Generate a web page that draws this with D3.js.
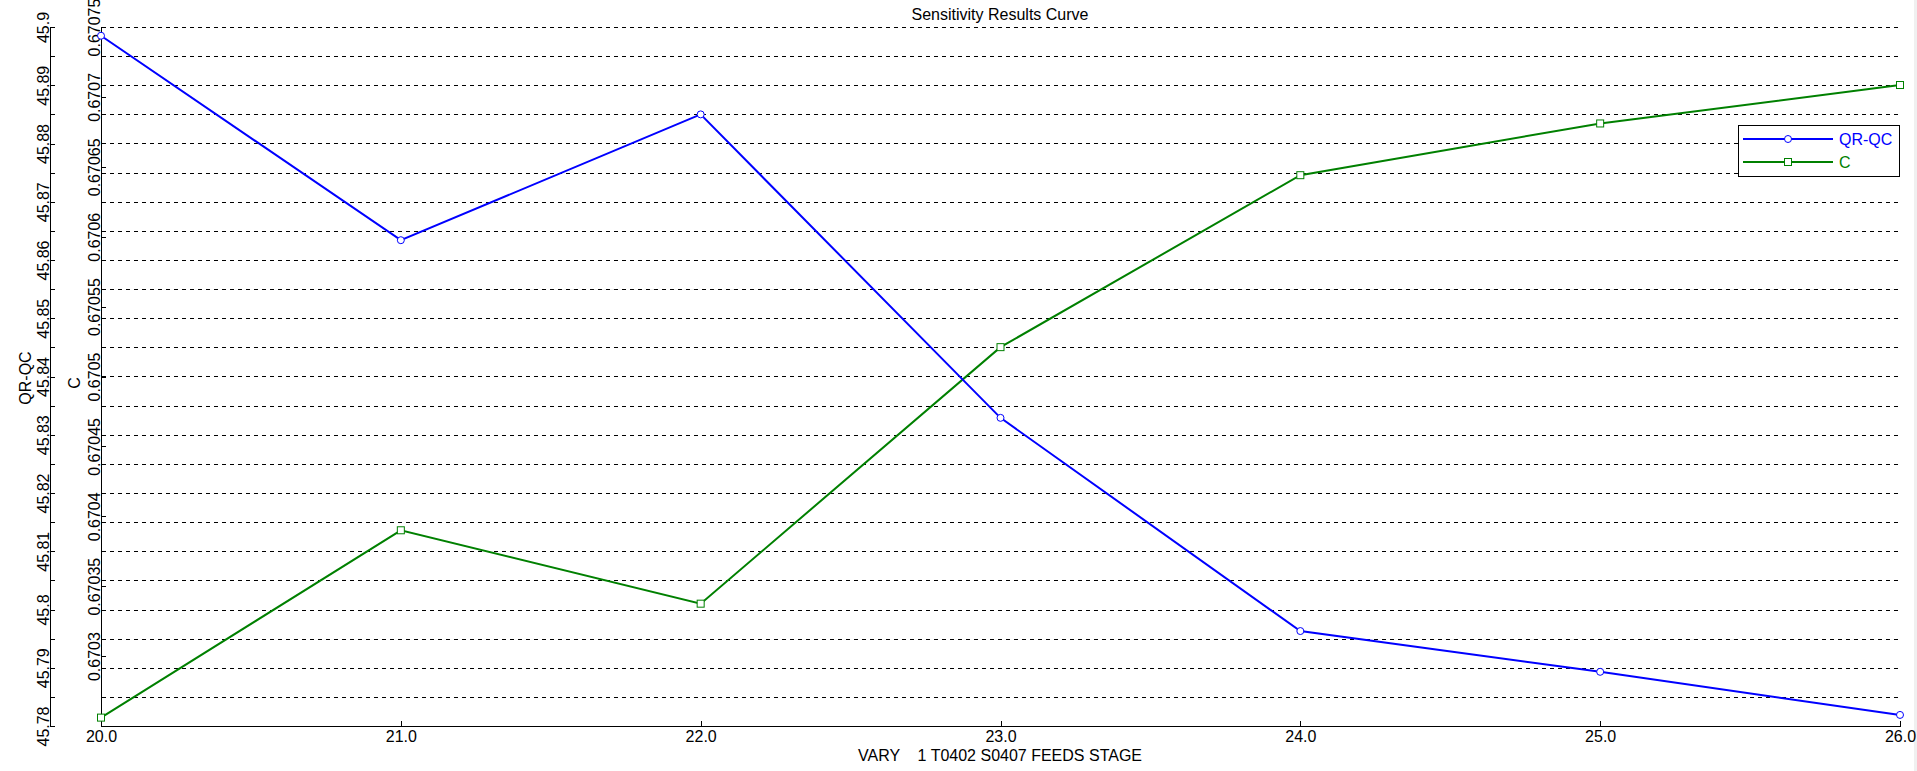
<!DOCTYPE html>
<html>
<head>
<meta charset="utf-8">
<script src="https://cdn.jsdelivr.net/npm/d3@7"></script>
<style>
  html, body { margin: 0; padding: 0; background: #fff; }
  svg { display: block; }
  text { font-family: "Liberation Sans", Arial, sans-serif; font-size: 16px; fill: #000; }
</style>
</head>
<body>
<svg id="chart" width="1917" height="771"></svg>
<script>
// ---- data ----
const xValues = [20, 21, 22, 23, 24, 25, 26];
const qrqcValues = [45.8985, 45.8634, 45.885, 45.8329, 45.7963, 45.7893, 45.7819];
const cValues = [0.670256, 0.67039, 0.6703375, 0.670521, 0.670644, 0.670681, 0.6707085];
const xTicks = [20, 21, 22, 23, 24, 25, 26];
const qrqcTicks = [45.78, 45.785, 45.79, 45.795, 45.8, 45.805, 45.81, 45.815, 45.82, 45.825, 45.83, 45.835,
                   45.84, 45.845, 45.85, 45.855, 45.86, 45.865, 45.87, 45.875, 45.88, 45.885, 45.89, 45.895, 45.9];
const qrqcLabelTicks = [45.78, 45.79, 45.8, 45.81, 45.82, 45.83, 45.84, 45.85, 45.86, 45.87, 45.88, 45.89, 45.9];
const cTicks = [0.6703, 0.67035, 0.6704, 0.67045, 0.6705, 0.67055, 0.6706, 0.67065, 0.6707, 0.67075];
const seriesNames = ["QR-QC", "C"];
const titleText = "Sensitivity Results Curve";
const xTitle = "VARY    1 T0402 S0407 FEEDS STAGE";

// ---- layout ----
const plotLeft = 101, plotRight = 1900, plotTop = 27, plotBottom = 726;
const blue = "#0000ff", green = "#008000";

const svg = d3.select("#chart");
svg.append("rect").attr("width", 1917).attr("height", 771).attr("fill", "#fff");
svg.append("rect").attr("x", 1914).attr("y", 0).attr("width", 3).attr("height", 771).attr("fill", "#f0f0f0");

const x = d3.scaleLinear().domain([20, 26]).range([plotLeft, plotRight]);
const yL = d3.scaleLinear().domain([45.78, 45.9]).range([plotBottom, plotTop]);
const yR = d3.scaleLinear().domain([0.67025, 0.67075]).range([plotBottom, plotTop]);

// gridlines (dashed) at each QR-QC tick
svg.append("g").selectAll("line")
  .data(qrqcTicks.filter(v => v > 45.7801))
  .join("line")
  .attr("x1", plotLeft + 1).attr("x2", 1898)
  .attr("y1", d => Math.round(yL(d)) + 0.5).attr("y2", d => Math.round(yL(d)) + 0.5)
  .attr("stroke", "#000").attr("stroke-width", 1).attr("stroke-dasharray", "4,4")
  .attr("shape-rendering", "crispEdges");

// QR-QC axis
const fmtL = v => qrqcLabelTicks.some(t => Math.abs(t - v) < 1e-9) ? String(Number(v.toFixed(2))) : "";
const axL = svg.append("g").attr("transform", "translate(50,0)")
  .call(d3.axisRight(yL).tickValues(qrqcTicks).tickSize(5).tickSizeOuter(0).tickFormat(fmtL));
axL.selectAll("text").attr("x", 0).attr("y", -1).attr("dy", null)
  .attr("transform", "rotate(-90)").attr("text-anchor", "middle");

// C axis
const fmtR = v => String(Number(v.toFixed(5)));
const axR = svg.append("g").attr("transform", `translate(${plotLeft},0)`)
  .call(d3.axisRight(yR).tickValues(cTicks).tickSize(5).tickSizeOuter(0).tickFormat(fmtR));
axR.selectAll("text").attr("x", 0).attr("y", -1.5).attr("dy", null)
  .attr("transform", "rotate(-90)").attr("text-anchor", "middle");

// X axis
const axX = svg.append("g").attr("transform", `translate(0,${plotBottom})`)
  .call(d3.axisBottom(x).tickValues(xTicks).tickSize(-5).tickSizeOuter(0).tickFormat(d3.format(".1f")));
axX.selectAll("text").attr("y", 16).attr("dy", null);

[axL, axR, axX].forEach(a => {
  a.selectAll("path, line").attr("stroke", "#000").attr("shape-rendering", "crispEdges");
  a.selectAll("text").attr("fill", "#000").style("font-size", "16px")
    .style("font-family", "'Liberation Sans', Arial, sans-serif");
});

// axis titles
svg.append("text").attr("transform", "translate(31,378) rotate(-90)").attr("text-anchor", "middle").text(seriesNames[0]);
svg.append("text").attr("transform", "translate(80,383) rotate(-90)").attr("text-anchor", "middle").text(seriesNames[1]);
svg.append("text").attr("x", 1000).attr("y", 19.5).attr("text-anchor", "middle").text(titleText);
svg.append("text").attr("x", 1000).attr("y", 761).attr("text-anchor", "middle")
  .attr("xml:space", "preserve").style("white-space", "pre").text(xTitle);

// series
const lineL = d3.line().x((d, i) => x(xValues[i])).y(d => yL(d));
const lineR = d3.line().x((d, i) => x(xValues[i])).y(d => yR(d));

svg.append("path").datum(cValues).attr("d", lineR)
  .attr("fill", "none").attr("stroke", green).attr("stroke-width", 2);
svg.append("path").datum(qrqcValues).attr("d", lineL)
  .attr("fill", "none").attr("stroke", blue).attr("stroke-width", 2);

svg.append("g").selectAll("rect").data(cValues).join("rect")
  .attr("x", (d, i) => x(xValues[i]) - 3.5).attr("y", d => yR(d) - 3.5)
  .attr("width", 7).attr("height", 7)
  .attr("fill", "#fff").attr("stroke", green).attr("stroke-width", 1);
svg.append("g").selectAll("circle").data(qrqcValues).join("circle")
  .attr("cx", (d, i) => x(xValues[i])).attr("cy", d => yL(d)).attr("r", 3.5)
  .attr("fill", "#fff").attr("stroke", blue).attr("stroke-width", 1);

// legend
const lg = svg.append("g");
lg.append("rect").attr("x", 1738.5).attr("y", 125.5).attr("width", 161).attr("height", 51)
  .attr("fill", "#fff").attr("stroke", "#000").attr("stroke-width", 1);
const rows = [
  { name: seriesNames[0], color: blue, y: 139, marker: "circle", base: 145 },
  { name: seriesNames[1], color: green, y: 162, marker: "square", base: 168 }
];
rows.forEach(r => {
  lg.append("line").attr("x1", 1743).attr("x2", 1833).attr("y1", r.y).attr("y2", r.y)
    .attr("stroke", r.color).attr("stroke-width", 2);
  if (r.marker === "circle") {
    lg.append("circle").attr("cx", 1788).attr("cy", r.y).attr("r", 3.5)
      .attr("fill", "#fff").attr("stroke", r.color).attr("stroke-width", 1);
  } else {
    lg.append("rect").attr("x", 1784.5).attr("y", r.y - 3.5).attr("width", 7).attr("height", 7)
      .attr("fill", "#fff").attr("stroke", r.color).attr("stroke-width", 1);
  }
  lg.append("text").attr("x", 1839).attr("y", r.base).attr("fill", r.color).style("fill", r.color).text(r.name);
});
</script>
</body>
</html>
